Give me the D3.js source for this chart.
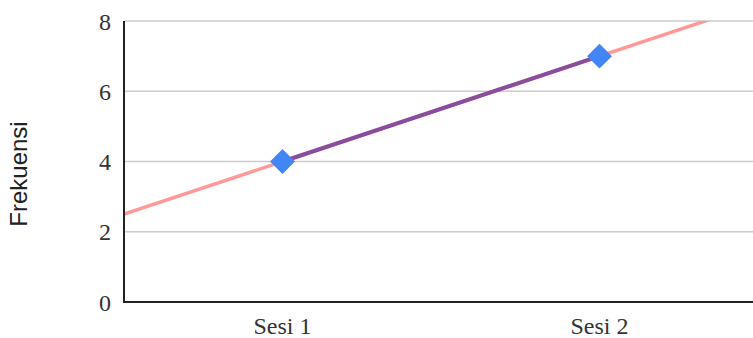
<!DOCTYPE html>
<html>
<head>
<meta charset="utf-8">
<script src="https://cdn.jsdelivr.net/npm/d3@7"></script>
<style>
  html, body { margin: 0; padding: 0; background: #fff; overflow: hidden; }
  svg { display: block; }
</style>
</head>
<body>
<svg id="chart" width="753" height="338"></svg>
<script>
// Session categories and observed frequencies
const categories = ["Sesi 1", "Sesi 2"];
const frequencies = [4, 7];
const yTicks = [0, 2, 4, 6, 8];
const yTitle = "Frekuensi";

const W = 753, H = 338;
const margin = { left: 124, top: 21, right: -5, bottom: 36 };
const plotRight = W - margin.right;
const plotBottom = H - margin.bottom;

const svg = d3.select("#chart");

const x = d3.scaleBand()
  .domain(categories)
  .range([margin.left, plotRight])
  .padding(0);

const y = d3.scaleLinear()
  .domain([0, 8])
  .range([plotBottom, margin.top]);

const cx = d => x(d) + x.bandwidth() / 2;

// Horizontal gridlines
svg.append("g")
  .selectAll("line")
  .data(yTicks.filter(t => t !== 0))
  .join("line")
  .attr("x1", margin.left)
  .attr("x2", plotRight)
  .attr("y1", d => y(d))
  .attr("y2", d => y(d))
  .attr("stroke", "#cccccc")
  .attr("stroke-width", 1.5);

// Y tick labels
const yAxis = d3.axisLeft(y).tickValues(yTicks).tickSize(0).tickPadding(13).tickFormat(d3.format("d"));
const gy = svg.append("g").attr("transform", `translate(${margin.left},0)`).call(yAxis);
gy.select(".domain").remove();
gy.selectAll("text")
  .attr("font-family", "'Liberation Serif', 'Times New Roman', serif")
  .attr("font-size", 24)
  .attr("fill", "#333")
  .attr("dy", "0.34em");

// X tick labels
const xAxis = d3.axisBottom(x).tickSize(0).tickPadding(0);
const gx = svg.append("g").attr("transform", `translate(0,${plotBottom})`).call(xAxis);
gx.select(".domain").remove();
gx.selectAll("text")
  .attr("font-family", "'Liberation Serif', 'Times New Roman', serif")
  .attr("font-size", 24)
  .attr("fill", "#333")
  .attr("y", 32)
  .attr("dy", 0);

// Axis title
svg.append("text")
  .attr("transform", "translate(27,174) rotate(-90)")
  .attr("text-anchor", "middle")
  .attr("font-family", "'Liberation Sans', Arial, sans-serif")
  .attr("font-size", 24)
  .attr("fill", "#222")
  .text(yTitle);

// Clip for plot area
svg.append("defs").append("clipPath").attr("id", "plot-clip")
  .append("rect")
  .attr("x", margin.left)
  .attr("y", margin.top)
  .attr("width", plotRight - margin.left)
  .attr("height", plotBottom - margin.top);

// Linear trendline fitted over the series
const xs = categories.map(cx);
const mx = d3.mean(xs), my = d3.mean(frequencies);
const slope = d3.sum(xs.map((xi, i) => (xi - mx) * (frequencies[i] - my))) /
              d3.sum(xs.map(xi => (xi - mx) ** 2));
const intercept = my - slope * mx;
const trendX = [margin.left, plotRight];

svg.append("line")
  .attr("clip-path", "url(#plot-clip)")
  .attr("x1", trendX[0])
  .attr("y1", y(intercept + slope * trendX[0]))
  .attr("x2", trendX[1])
  .attr("y2", y(intercept + slope * trendX[1]))
  .attr("stroke", "#ff9999")
  .attr("stroke-width", 3.5);

// Series line
svg.append("path")
  .datum(categories.map((c, i) => [cx(c), y(frequencies[i])]))
  .attr("d", d3.line())
  .attr("fill", "none")
  .attr("stroke", "#8a4c9e")
  .attr("stroke-width", 4);

// Diamond markers
svg.append("g")
  .selectAll("path")
  .data(categories.map((c, i) => ({ c, v: frequencies[i] })))
  .join("path")
  .attr("transform", d => `translate(${cx(d.c)},${y(d.v)}) rotate(45)`)
  .attr("d", "M-8.8,-8.8H8.8V8.8H-8.8Z")
  .attr("fill", "#4285f4");

// Axis lines
svg.append("line")
  .attr("x1", margin.left).attr("x2", margin.left)
  .attr("y1", margin.top).attr("y2", plotBottom + 1)
  .attr("stroke", "#222").attr("stroke-width", 2);
svg.append("line")
  .attr("x1", margin.left - 1).attr("x2", plotRight)
  .attr("y1", plotBottom).attr("y2", plotBottom)
  .attr("stroke", "#222").attr("stroke-width", 2);
</script>
</body>
</html>
